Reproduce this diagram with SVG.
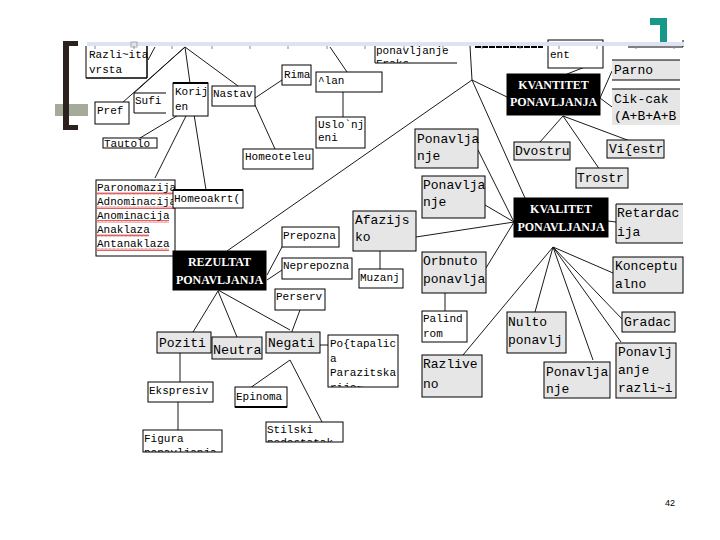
<svg xmlns="http://www.w3.org/2000/svg" width="720" height="540" viewBox="0 0 720 540">
<style>
.b{fill:#fff;stroke:#000;stroke-width:1}
.g{fill:#e6e6e6;stroke:#000;stroke-width:1}
.k{fill:#000;stroke:#000}
.n{fill:none;stroke:#000;stroke-width:1}
.th{fill:none;stroke:#000;stroke-width:2.2}
.t{font-family:"Liberation Mono","Courier New",monospace;font-size:11px;fill:#000}
.T{font-family:"Liberation Mono","Courier New",monospace;font-size:13px;fill:#000}
.w{font-family:"Liberation Serif","Times New Roman",serif;font-size:12px;font-weight:bold;fill:#fff;text-anchor:middle}
.c line{stroke:#1a1a1a;stroke-width:1}
.wv{fill:url(#wave)}
</style>
<defs>
<pattern id="wave" patternUnits="userSpaceOnUse" width="4" height="3">
<path d="M0,2.5 L1,0.5 L2,2.5 L3,0.5 L4,2.5" fill="none" stroke="#d02020" stroke-width="0.7"/>
</pattern>
<clipPath id="cFraks"><rect x="375" y="46" width="85" height="17"/></clipPath>
<clipPath id="cPost"><rect x="328" y="335" width="70" height="52"/></clipPath>
<clipPath id="cFig"><rect x="143" y="430" width="79" height="22"/></clipPath>
<clipPath id="cSti"><rect x="266" y="422" width="77" height="20"/></clipPath>
</defs>
<rect width="720" height="540" fill="#fff"/>

<!-- decoration -->
<g id="decor">
<rect x="55" y="104" width="33" height="12" fill="#a4ab99"/>
<path d="M63,41 H78 V46 H69 V125 H78 V130 H63 Z" fill="#2b2220"/>
<path d="M650,18 H667 V42 H660 V25 H650 Z" fill="#17998a"/>
</g>

<!-- connectors -->
<g id="connectors" class="c">
<line x1="155" y1="47" x2="148" y2="60"/>
<line x1="185" y1="47" x2="122" y2="103"/>
<line x1="185" y1="47" x2="134" y2="93"/>
<line x1="185" y1="47" x2="190" y2="83"/>
<line x1="185" y1="47" x2="238" y2="86"/>
<line x1="190" y1="108" x2="140" y2="138"/>
<line x1="190" y1="108" x2="155" y2="178"/>
<line x1="193" y1="108" x2="206" y2="190"/>
<line x1="255" y1="98" x2="282" y2="80"/>
<line x1="255" y1="105" x2="275" y2="149"/>
<line x1="330" y1="47" x2="347" y2="72"/>
<line x1="343" y1="92" x2="343" y2="117"/>
<line x1="470" y1="46" x2="472" y2="80"/>
<line x1="472" y1="80" x2="507" y2="97"/>
<line x1="472" y1="80" x2="227" y2="251"/>
<line x1="472" y1="80" x2="525" y2="198"/>
<line x1="567" y1="74" x2="585" y2="67"/>
<line x1="600" y1="98" x2="612" y2="71"/>
<line x1="600" y1="98" x2="612" y2="107"/>
<line x1="563" y1="116" x2="540" y2="142"/>
<line x1="563" y1="116" x2="600" y2="170"/>
<line x1="563" y1="116" x2="630" y2="141"/>
<line x1="478" y1="150" x2="514" y2="222"/>
<line x1="485" y1="205" x2="514" y2="222"/>
<line x1="416" y1="237" x2="514" y2="222"/>
<line x1="486" y1="268" x2="514" y2="222"/>
<line x1="608" y1="221" x2="616" y2="222"/>
<line x1="553" y1="247" x2="613" y2="273"/>
<line x1="553" y1="247" x2="623" y2="320"/>
<line x1="553" y1="247" x2="621" y2="342"/>
<line x1="553" y1="247" x2="593" y2="360"/>
<line x1="553" y1="247" x2="535" y2="312"/>
<line x1="553" y1="247" x2="463" y2="355"/>
<line x1="380" y1="251" x2="380" y2="269"/>
<line x1="445" y1="293" x2="445" y2="311"/>
<line x1="267" y1="275" x2="282" y2="247"/>
<line x1="267" y1="280" x2="282" y2="270"/>
<line x1="218" y1="290" x2="290" y2="330"/>
<line x1="300" y1="310" x2="288" y2="342"/>
<line x1="218" y1="291" x2="193" y2="332"/>
<line x1="218" y1="291" x2="237" y2="337"/>
<line x1="320" y1="345" x2="328" y2="345"/>
<line x1="290" y1="360" x2="250" y2="388"/>
<line x1="290" y1="360" x2="322" y2="422"/>
<line x1="180" y1="353" x2="180" y2="382"/>
<line x1="178" y1="402" x2="178" y2="430"/>
</g>

<!-- nodes -->
<g id="n-razlicita"><path class="b" d="M86,46 V78 H147 V46"/><path class="n" d="M86,78 H147 V46"/><text class="t" x="89" y="58">Razli~ita</text><text class="t" x="89" y="73">vrsta</text></g>
<g id="n-fraks"><rect x="375" y="46" width="82" height="17" fill="#fff"/><path class="n" d="M375,46 V63 H457"/><g clip-path="url(#cFraks)"><text class="t" x="376" y="54">ponavljanje</text><text class="t" x="376" y="67">Fraks</text></g></g>
<g id="n-top3"><line x1="475" y1="47" x2="543" y2="47" stroke="#000" stroke-width="2" stroke-dasharray="6,1"/></g>
<g id="n-ent"><rect class="b" x="548" y="40" width="55" height="28"/><text class="t" x="550" y="58">ent</text></g>
<g id="n-topright"><path class="n" d="M628,47 H683 V40"/></g>
<g id="n-parno"><rect x="612" y="60" width="68" height="20" fill="#e6e6e6"/><path class="n" d="M612,60 H680 M612,80 H680" stroke-width="1.6"/><text class="T" x="614" y="74">Parno</text></g>
<g id="n-cikcak"><rect x="612" y="89" width="68" height="36" fill="#e6e6e6"/><path class="n" d="M612,89 H680"/><text class="T" x="614" y="103">Cik-cak</text><text class="T" x="614" y="120">(A+B+A+B</text></g>
<g id="n-kvantitet"><rect class="k" x="507" y="74" width="93" height="41"/><text class="w" x="553.5" y="89">KVANTITET</text><text class="w" x="553.5" y="106">PONAVLJANJA</text></g>
<g id="n-rima"><rect class="b" x="282" y="65" width="29" height="20"/><text class="t" x="284" y="78">Rima</text></g>
<g id="n-clan"><rect class="b" x="316" y="72" width="66" height="20"/><text class="t" x="318" y="84">^lan</text></g>
<g id="n-uslo"><rect class="b" x="316" y="117" width="49" height="31"/><text class="t" x="318" y="128">Uslo`nj</text><text class="t" x="318" y="141">eni</text></g>
<g id="n-nastav"><rect class="b" x="212" y="86" width="43" height="20"/><text class="t" x="213" y="97">Nastav</text></g>
<g id="n-korijen"><rect class="b" x="173" y="83" width="35" height="33"/><path class="th" d="M173,83 H208"/><text class="t" x="175" y="95">Korij</text><text class="t" x="175" y="110">en</text></g>
<g id="n-homeoteleu"><rect class="b" x="243" y="149" width="70" height="20"/><text class="t" x="245" y="160">Homeoteleu</text></g>
<g id="n-sufi"><rect x="134" y="93" width="32" height="20" fill="#fff"/><path class="n" d="M166,93 H134 V113 H166"/><text class="t" x="135" y="104">Sufi</text></g>
<g id="n-pref"><rect class="b" x="95" y="102" width="34" height="22"/><text class="t" x="97" y="114">Pref</text></g>
<g id="n-tautolo"><rect class="b" x="103" y="138" width="54" height="10"/><text class="t" x="104" y="147">Tautolo</text></g>
<g id="n-parono"><rect class="b" x="96" y="180" width="79" height="76"/>
<text class="t" x="97" y="191">Paronomazija</text><rect class="wv" x="97" y="192" width="78" height="3"/>
<text class="t" x="97" y="205">Adnominacija</text><rect class="wv" x="97" y="206" width="78" height="3"/>
<text class="t" x="97" y="219">Anominacija</text><rect class="wv" x="97" y="220" width="72" height="3"/>
<text class="t" x="97" y="233">Anaklaza</text><rect class="wv" x="97" y="234" width="52" height="3"/>
<text class="t" x="97" y="247">Antanaklaza</text><rect class="wv" x="97" y="248" width="72" height="3"/></g>
<g id="n-homeoakrt"><rect class="b" x="173" y="190" width="70" height="18"/><path class="th" d="M173,190 H243"/><text class="t" x="174" y="202">Homeoakrt(</text></g>
<g id="n-rezultat"><rect class="k" x="173" y="251" width="93" height="39"/><text class="w" x="219.5" y="266">REZULTAT</text><text class="w" x="219.5" y="284">PONAVLJANJA</text></g>
<g id="n-prepozna"><rect class="b" x="282" y="227" width="57" height="20"/><text class="t" x="283" y="239">Prepozna</text></g>
<g id="n-neprepozna"><rect class="b" x="282" y="258" width="70" height="21"/><text class="t" x="283" y="269">Neprepozna</text></g>
<g id="n-perserv"><rect class="b" x="275" y="289" width="50" height="21"/><text class="t" x="276" y="300">Perserv</text></g>
<g id="n-afazijsko"><rect class="g" x="353" y="211" width="63" height="40"/><text class="T" x="355" y="224">Afazijs</text><text class="T" x="355" y="241">ko</text></g>
<g id="n-muzanj"><rect class="b" x="359" y="269" width="44" height="19"/><text class="t" x="360" y="281">Muzanj</text></g>
<g id="n-pon1"><rect class="g" x="415" y="129" width="63" height="39"/><text class="T" x="417" y="143">Ponavlja</text><text class="T" x="417" y="160">nje</text></g>
<g id="n-pon2"><rect class="g" x="422" y="176" width="63" height="42"/><text class="T" x="423" y="189">Ponavlja</text><text class="T" x="423" y="206">nje</text></g>
<g id="n-dvostru"><rect class="g" x="514" y="142" width="56" height="18"/><text class="T" x="515" y="155">Dvostru</text></g>
<g id="n-visestr"><rect class="g" x="607" y="140" width="57" height="18"/><text class="T" x="609" y="153">Vi{estr</text></g>
<g id="n-trostr"><rect class="g" x="576" y="168" width="52" height="20"/><text class="T" x="577" y="182">Trostr</text></g>
<g id="n-kvalitet"><rect class="k" x="514" y="198" width="94" height="39"/><text class="w" x="561" y="213">KVALITET</text><text class="w" x="561" y="231">PONAVLJANJA</text></g>
<g id="n-retardacija"><rect x="616" y="204" width="67" height="39" fill="#e6e6e6"/><path class="n" d="M616,204 H683 M616,243 H683" stroke-width="2"/><path class="n" d="M616,204 V243"/><text class="T" x="617" y="217">Retardac</text><text class="T" x="617" y="236">ija</text></g>
<g id="n-orbnuto"><rect class="g" x="422" y="252" width="64" height="41"/><text class="T" x="423" y="265">Orbnuto</text><text class="T" x="423" y="283">ponavlja</text></g>
<g id="n-palind"><rect class="b" x="422" y="311" width="45" height="31"/><text class="t" x="423" y="322">Palind</text><text class="t" x="423" y="337">rom</text></g>
<g id="n-razliveno"><rect class="g" x="422" y="355" width="60" height="42"/><text class="T" x="423" y="368">Razlive</text><text class="T" x="423" y="388">no</text></g>
<g id="n-nulto"><rect class="g" x="507" y="312" width="59" height="41"/><text class="T" x="508" y="326">Nulto</text><text class="T" x="508" y="344">ponavlj</text></g>
<g id="n-pon3"><rect class="g" x="544" y="362" width="66" height="36"/><text class="T" x="546" y="376">Ponavlja</text><text class="T" x="546" y="393">nje</text></g>
<g id="n-ponraz"><rect class="g" x="616" y="343" width="60" height="55"/><text class="T" x="618" y="356">Ponavlj</text><text class="T" x="618" y="374">anje</text><text class="T" x="618" y="392">razli~i</text></g>
<g id="n-gradac"><rect class="g" x="622" y="312" width="53" height="20"/><text class="T" x="624" y="326">Gradac</text></g>
<g id="n-koncept"><rect class="g" x="613" y="257" width="70" height="36"/><text class="T" x="615" y="270">Konceptu</text><text class="T" x="615" y="288">alno</text></g>
<g id="n-poziti"><rect class="g" x="157" y="332" width="54" height="21"/><text class="T" x="159" y="347">Poziti</text></g>
<g id="n-neutra"><rect class="g" x="212" y="337" width="50" height="22"/><text class="T" x="213" y="354" style="font-size:13.5px">Neutra</text></g>
<g id="n-negati"><rect class="g" x="266" y="332" width="54" height="21"/><text class="T" x="268" y="347">Negati</text></g>
<g id="n-postap"><rect class="b" x="328" y="335" width="70" height="52"/><g clip-path="url(#cPost)"><text class="t" x="330" y="347">Po{tapalic</text><text class="t" x="330" y="362">a</text><text class="t" x="330" y="376">Parazitska</text><text class="t" x="330" y="391">rije~</text></g></g>
<g id="n-ekspresiv"><rect class="b" x="148" y="382" width="65" height="20"/><text class="t" x="149" y="394">Ekspresiv</text></g>
<g id="n-epinoma"><rect class="b" x="235" y="387" width="52" height="20"/><path class="th" d="M235,407 H287"/><text class="t" x="236" y="400">Epinoma</text></g>
<g id="n-figura"><rect class="b" x="143" y="430" width="79" height="22"/><g clip-path="url(#cFig)"><text class="t" x="144" y="442">Figura</text><text class="t" x="144" y="456">ponavljanja</text></g></g>
<g id="n-stilski"><rect class="b" x="266" y="422" width="77" height="20"/><g clip-path="url(#cSti)"><text class="t" x="267" y="433">Stilski</text><text class="t" x="267" y="446">nedostatak</text></g></g>

<!-- ruler strip -->
<g id="strip">
<rect x="87" y="42" width="597" height="4" fill="#dde2f4"/>
<path d="M95,46v3M134,46v3M172,46v3M212,46v3M250,46v3M288,46v3M327,46v3M365,46v3M404,46v3M443,46v3M482,46v3M520,46v3M559,46v3M597,46v3M636,46v3M674,46v3" stroke="#888" stroke-width="1"/>
<rect x="131" y="42" width="6" height="5" fill="none" stroke="#999" stroke-width="0.8"/>
</g>

<text x="665" y="506" style="font-family:'Liberation Sans',Arial,sans-serif;font-size:9px" fill="#000">42</text>
</svg>
